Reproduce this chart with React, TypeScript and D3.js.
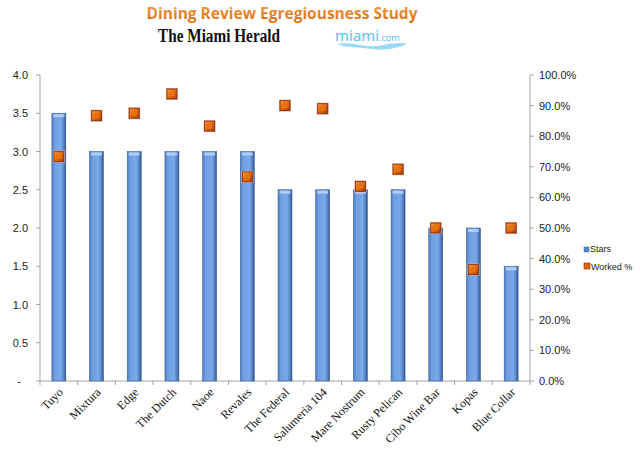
import * as d3 from "d3";
import { useEffect, useRef } from "react";

const restaurants = [
  "Tuyo",
  "Mixtura",
  "Edge",
  "The Dutch",
  "Naoe",
  "Revales",
  "The Federal",
  "Salumeria 104",
  "Mare Nostrum",
  "Rusty Pelican",
  "Cibo Wine Bar",
  "Kopas",
  "Blue Collar",
];
const stars = [3.5, 3, 3, 3, 3, 3, 2.5, 2.5, 2.5, 2.5, 2, 2, 1.5];
const workedPct = [73.3, 86.7, 87.5, 93.8, 83.3, 66.7, 90.0, 89.0, 63.6, 69.2, 50.0, 36.4, 50.0];
const starTicks = [0, 0.5, 1, 1.5, 2, 2.5, 3, 3.5, 4];
const pctTicks = [0, 10, 20, 30, 40, 50, 60, 70, 80, 90, 100];

export default function App(): JSX.Element {
  const svgRef = useRef<SVGSVGElement>(null);

  useEffect(() => {
    if (!svgRef.current) return;
    const width = 640;
    const height = 455;
    const margin = { top: 75, right: 110, bottom: 74, left: 40 };

    const svg = d3.select(svgRef.current);
    svg.selectAll("*").remove();
    svg.attr("width", width).attr("height", height);

    const defs = svg.append("defs");
    const barGrad = defs.append("linearGradient").attr("id", "barGrad").attr("x1", 0).attr("x2", 1).attr("y1", 0).attr("y2", 0);
    barGrad.append("stop").attr("offset", "0%").attr("stop-color", "#4d7cc0");
    barGrad.append("stop").attr("offset", "20%").attr("stop-color", "#6f9fe0");
    barGrad.append("stop").attr("offset", "65%").attr("stop-color", "#79a9ea");
    barGrad.append("stop").attr("offset", "85%").attr("stop-color", "#5683c4");
    barGrad.append("stop").attr("offset", "100%").attr("stop-color", "#2f5288");

    const mkGrad = defs.append("linearGradient").attr("id", "mkGrad").attr("x1", 0).attr("x2", 1).attr("y1", 0).attr("y2", 1);
    mkGrad.append("stop").attr("offset", "0%").attr("stop-color", "#f79a3e");
    mkGrad.append("stop").attr("offset", "55%").attr("stop-color", "#e0640c");
    mkGrad.append("stop").attr("offset", "100%").attr("stop-color", "#9a3d08");

    const titleGrad = defs.append("linearGradient").attr("id", "titleGrad").attr("x1", 0).attr("x2", 0).attr("y1", 0).attr("y2", 1);
    titleGrad.append("stop").attr("offset", "0%").attr("stop-color", "#f7a24a");
    titleGrad.append("stop").attr("offset", "100%").attr("stop-color", "#d8680e");

    const x = d3
      .scaleBand()
      .domain(restaurants)
      .range([margin.left, width - margin.right])
      .paddingInner(0.63)
      .paddingOuter(0.315);

    const yLeft = d3.scaleLinear().domain([0, 4]).range([height - margin.bottom, margin.top]);
    const yRight = d3.scaleLinear().domain([0, 100]).range([height - margin.bottom, margin.top]);

    // title block
    svg
      .append("text")
      .attr("x", 282)
      .attr("y", 19)
      .attr("text-anchor", "middle")
      .style("font-family", "'Open Sans', 'DejaVu Sans', sans-serif")
      .style("font-weight", 700)
      .style("font-size", "15.5px")
      .attr("fill", "url(#titleGrad)")
      .text("Dining Review Egregiousness Study");

    svg
      .append("text")
      .attr("x", 219)
      .attr("y", 42)
      .attr("text-anchor", "middle")
      .attr("textLength", 122)
      .attr("lengthAdjust", "spacingAndGlyphs")
      .style("font-family", "'Liberation Serif', 'DejaVu Serif', serif")
      .style("font-weight", 700)
      .style("font-size", "18px")
      .attr("fill", "#111")
      .text("The Miami Herald");

    const logo = svg.append("g").attr("transform", "translate(335,41)");
    logo
      .append("text")
      .attr("x", 0)
      .attr("y", 0)
      .style("font-family", "'Noto Sans', 'DejaVu Sans', sans-serif")
      .style("font-size", "15px")
      .attr("fill", "#5cc1ee")
      .text("miami");
    logo
      .append("text")
      .attr("x", 44)
      .attr("y", 0)
      .style("font-family", "'Noto Sans', 'DejaVu Sans', sans-serif")
      .style("font-size", "9px")
      .attr("fill", "#5cc1ee")
      .text(".com");
    logo
      .append("path")
      .attr("d", "M2,3 C18,0 30,8 48,4 C58,2 66,1 72,3 C62,7 50,10 38,8 C24,6 12,7 2,3 Z")
      .attr("fill", "#9ad9f5");

    // axes lines
    const axisColor = "#a6a6a6";
    const baseY = yLeft(0);
    svg
      .append("line")
      .attr("x1", margin.left)
      .attr("x2", margin.left)
      .attr("y1", yLeft(4))
      .attr("y2", baseY)
      .attr("stroke", axisColor);
    svg
      .append("line")
      .attr("x1", width - margin.right)
      .attr("x2", width - margin.right)
      .attr("y1", yRight(100))
      .attr("y2", baseY)
      .attr("stroke", axisColor);
    svg
      .append("line")
      .attr("x1", margin.left)
      .attr("x2", width - margin.right)
      .attr("y1", baseY)
      .attr("y2", baseY)
      .attr("stroke", axisColor);

    const tickFont = "'Liberation Sans', Arial, sans-serif";

    // left ticks
    const lt = svg.append("g");
    lt.selectAll("line")
      .data(starTicks)
      .join("line")
      .attr("x1", margin.left - 4)
      .attr("x2", margin.left)
      .attr("y1", (d) => yLeft(d))
      .attr("y2", (d) => yLeft(d))
      .attr("stroke", axisColor);
    lt.selectAll("text")
      .data(starTicks)
      .join("text")
      .attr("x", (d) => (d === 0 ? 21 : 28))
      .attr("y", (d) => yLeft(d) + 4)
      .attr("text-anchor", "end")
      .style("font-family", tickFont)
      .style("font-size", "11px")
      .attr("fill", "#222")
      .text((d) => (d === 0 ? "-" : d3.format(".1f")(d)));

    // right ticks
    const rt = svg.append("g");
    rt.selectAll("line")
      .data(pctTicks)
      .join("line")
      .attr("x1", width - margin.right)
      .attr("x2", width - margin.right + 4)
      .attr("y1", (d) => yRight(d))
      .attr("y2", (d) => yRight(d))
      .attr("stroke", axisColor);
    rt.selectAll("text")
      .data(pctTicks)
      .join("text")
      .attr("x", width - margin.right + 9)
      .attr("y", (d) => yRight(d) + 4)
      .attr("text-anchor", "start")
      .style("font-family", tickFont)
      .style("font-size", "11px")
      .attr("fill", "#222")
      .text((d) => `${d.toFixed(1)}%`);

    // x ticks at band boundaries
    const step = x.step();
    const boundaries = d3.range(restaurants.length + 1).map((i) => margin.left + i * step);
    svg
      .append("g")
      .selectAll("line")
      .data(boundaries)
      .join("line")
      .attr("x1", (d) => d)
      .attr("x2", (d) => d)
      .attr("y1", baseY)
      .attr("y2", baseY + 4)
      .attr("stroke", axisColor);

    // x labels
    svg
      .append("g")
      .selectAll("text")
      .data(restaurants)
      .join("text")
      .attr(
        "transform",
        (d) => `translate(${x(d)! + x.bandwidth() / 2 + 5},${baseY + 12}) rotate(-45)`,
      )
      .attr("text-anchor", "end")
      .style("font-family", "'Liberation Serif', 'DejaVu Serif', serif")
      .style("font-size", "12px")
      .attr("fill", "#111")
      .text((d) => d);

    // bars
    const bars = svg.append("g");
    restaurants.forEach((name, i) => {
      const bx = x(name)!;
      const bw = x.bandwidth();
      const top = yLeft(stars[i]);
      bars
        .append("rect")
        .attr("x", bx)
        .attr("y", top)
        .attr("width", bw)
        .attr("height", baseY - top)
        .attr("fill", "url(#barGrad)")
        .attr("stroke", "#3b5f96")
        .attr("stroke-width", 0.6);
      bars
        .append("rect")
        .attr("x", bx + 1.5)
        .attr("y", top + 1)
        .attr("width", bw - 3)
        .attr("height", 3)
        .attr("fill", "#b8d4fb")
        .attr("opacity", 0.85);
    });

    // markers
    const mk = svg.append("g");
    restaurants.forEach((name, i) => {
      const cx = x(name)! + x.bandwidth() / 2;
      const cy = yRight(workedPct[i]);
      mk.append("rect")
        .attr("x", cx - 6)
        .attr("y", cy - 6)
        .attr("width", 12)
        .attr("height", 12)
        .attr("fill", "#e9a8a4");
      mk.append("rect")
        .attr("x", cx - 5)
        .attr("y", cy - 5)
        .attr("width", 10)
        .attr("height", 10)
        .attr("fill", "url(#mkGrad)")
        .attr("stroke", "#7a2e06")
        .attr("stroke-width", 0.8);
      mk.append("rect")
        .attr("x", cx - 2.5)
        .attr("y", cy - 2.5)
        .attr("width", 5)
        .attr("height", 5)
        .attr("fill", "#e8720f");
    });

    // legend
    const lg = svg.append("g").attr("transform", "translate(584,0)");
    lg.append("rect").attr("x", 0).attr("y", 247).attr("width", 5).attr("height", 5).attr("fill", "#5a86c8").attr("stroke", "#3b5f96").attr("stroke-width", 0.5);
    lg.append("text")
      .attr("x", 6)
      .attr("y", 252)
      .style("font-family", tickFont)
      .style("font-size", "9px")
      .attr("fill", "#222")
      .text("Stars");
    lg.append("rect").attr("x", 0).attr("y", 263).attr("width", 6).attr("height", 6).attr("fill", "#e0640c").attr("stroke", "#7a2e06").attr("stroke-width", 0.6);
    lg.append("text")
      .attr("x", 7)
      .attr("y", 270)
      .style("font-family", tickFont)
      .style("font-size", "9px")
      .attr("fill", "#222")
      .text("Worked %");
  }, []);

  return (
    <div style={{ position: "absolute", left: 0, top: 0, width: 640, height: 455, background: "#fff" }}>
      <svg ref={svgRef} style={{ display: "block" }} />
    </div>
  );
}
